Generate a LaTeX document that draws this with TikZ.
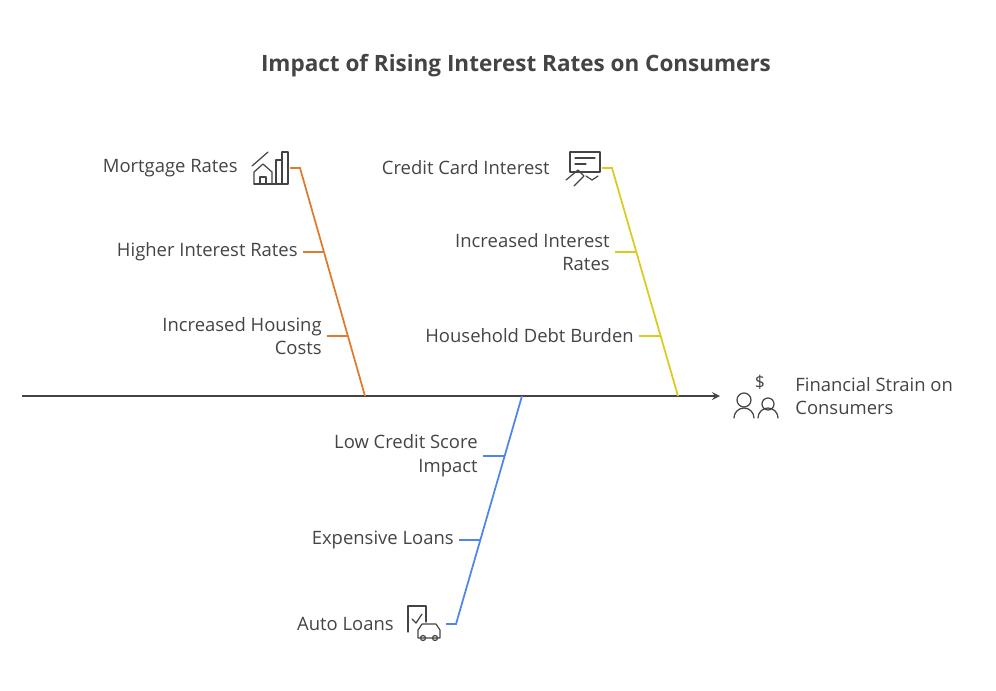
\documentclass[tikz,border=0pt]{standalone}
\usepackage{fontspec}
\setmainfont{Open Sans}
\usetikzlibrary{positioning}
\definecolor{inkgray}{HTML}{444444}
\definecolor{bonered}{HTML}{E07B2E}
\definecolor{boneyellow}{HTML}{DCCB1E}
\definecolor{boneblue}{HTML}{4F86E8}
\tikzset{
  lbl/.style={text=inkgray, font=\fontsize{10.5}{13.5}\selectfont, align=right, anchor=east, inner sep=0pt},
  bone/.style={line width=1pt},
  icon/.style={draw=inkgray, line width=0.7pt, line cap=round, line join=round}
}
\begin{document}
\begin{tikzpicture}[x=0.02cm, y=-0.02cm]
  \useasboundingbox (0,0) rectangle (996,690);

  % Title
  \node[text=inkgray, font=\bfseries\fontsize{12.8}{15}\selectfont] (title) at (516,66) {Impact of Rising Interest Rates on Consumers};

  % Spine
  \coordinate (tail) at (22,396);
  \coordinate (head) at (720,396);
  \draw[inkgray, line width=1pt, -stealth] (tail) -- (head);
  \node[text=inkgray, font=\fontsize{10.5}{13.5}\selectfont, align=left, anchor=west, inner sep=0pt] (effect) at (795,396) {Financial Strain on\\Consumers};

  % Orange bone
  \coordinate (oa) at (365,396);
  \coordinate (ob) at (300,168);
  \coordinate (oc) at (290,168);
  \draw[bonered, bone] (oa) -- (ob) -- (oc);
  \coordinate (o1) at (324,252);
  \coordinate (o2) at (348,336);
  \draw[bonered, bone] ([xshift=-12]o1) -- (o1);
  \draw[bonered, bone] ([xshift=-12]o2) -- (o2);
  \node[lbl] (mort) at (238,168) {Mortgage Rates};
  \node[lbl] (high) at (298,252) {Higher Interest Rates};
  \node[lbl] (hous) at (322,336) {Increased Housing\\Costs};

  % Yellow bone
  \coordinate (ya) at (678,396);
  \coordinate (yb) at (612,168);
  \coordinate (yc) at (602,168);
  \draw[boneyellow, bone] (ya) -- (yb) -- (yc);
  \coordinate (y1) at (636,252);
  \coordinate (y2) at (660,336);
  \draw[boneyellow, bone] ([xshift=-12]y1) -- (y1);
  \draw[boneyellow, bone] ([xshift=-12]y2) -- (y2);
  \node[lbl] (card) at (550,168) {Credit Card Interest};
  \node[lbl] (incr) at (610,252) {Increased Interest\\Rates};
  \node[lbl] (debt) at (634,336) {Household Debt Burden};

  % Blue bone
  \coordinate (ba) at (522,396);
  \coordinate (bb) at (456,624);
  \coordinate (bc) at (446,624);
  \draw[boneblue, bone] (ba) -- (bb) -- (bc);
  \coordinate (b1) at (504,456);
  \coordinate (b2) at (480,540);
  \draw[boneblue, bone] ([xshift=-12]b1) -- (b1);
  \draw[boneblue, bone] ([xshift=-12]b2) -- (b2);
  \node[lbl] (score) at (478,456) {Low Credit Score\\Impact};
  \node[lbl] (loans) at (454,540) {Expensive Loans};
  \node[lbl] (auto) at (394,624) {Auto Loans};

  % Icons
  \draw[icon] (254,184) -- (254,172) -- (263,164) -- (272,172) -- (272,184) -- cycle;
  \draw[icon] (260,184) -- (260,177) -- (266,177) -- (266,184);
  \draw[icon] (276,184) -- (276,160) -- (282,160) -- (282,184);
  \draw[icon] (282,184) -- (282,152) -- (288,152) -- (288,184) -- (254,184);
  \draw[icon] (252,166) -- (268,152);
  \draw[icon] (570,152) rectangle (600,172);
  \draw[icon] (575,158) -- (595,158) (575,164) -- (586,164);
  \draw[icon] (566,180) -- (578,170) -- (584,176) -- (574,186);
  \draw[icon] (586,176) -- (592,180) -- (598,176);
  \draw[icon] (408,632) -- (408,606) -- (426,606) -- (426,622);
  \draw[icon] (412,619) -- (416,623) -- (422,614);
  \draw[icon] (418,638) -- (418,630) -- (422,624) -- (436,624) -- (440,630) -- (440,638) -- cycle;
  \draw[icon] (423,638) circle (2.5) (435,638) circle (2.5);
  \draw[icon] (744,400) circle (7);
  \draw[icon] (734,418) arc[start angle=180, end angle=360, radius=10];
  \draw[icon] (768,404) circle (6);
  \draw[icon] (758,418) arc[start angle=180, end angle=360, radius=10];
  \node[text=inkgray, font=\fontsize{10}{12}\selectfont, inner sep=0pt] (dollar) at (760,382) {\$};
\end{tikzpicture}
\end{document}
